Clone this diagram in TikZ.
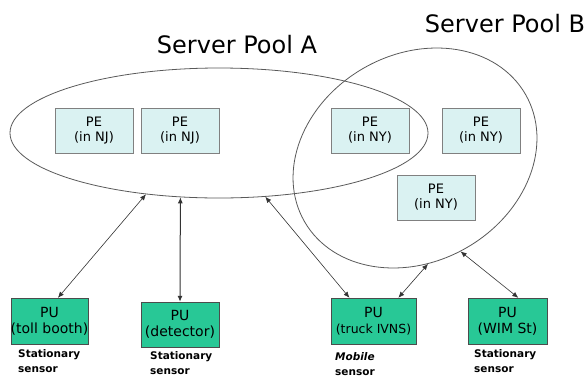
\documentclass[tikz,border=0pt]{standalone}
\usepackage{fontspec}
\setmainfont{DejaVu Sans}
\usetikzlibrary{shapes.geometric,arrows.meta}
\begin{document}
\begin{tikzpicture}[x=1pt,y=-1pt,
  pool/.style={ellipse,draw=black!65,line width=0.8pt,inner sep=0pt},
  pebox/.style={draw=black!50,fill={rgb,255:red,218;green,242;blue,242},minimum width=78pt,minimum height=45pt,inner sep=0pt,align=center,font=\fontsize{13}{15}\selectfont},
  pubox/.style={draw=black!70,fill={rgb,255:red,40;green,200;blue,150},minimum height=46pt,inner sep=0pt,align=center,font=\fontsize{14}{16}\selectfont},
  sensor/.style={anchor=north west,align=left,inner sep=0pt,font=\fontsize{10.5}{15}\selectfont\bfseries},
  link/.style={<->,>={Latex[length=6pt,width=5pt]},line width=0.6pt,draw=black!80},
  title/.style={font=\fontsize{24}{28}\selectfont,inner sep=0pt,anchor=base}]
\useasboundingbox (0,0) rectangle (588,378);

\node[title] (tA) at (237,53) {Server Pool A};
\node[title] (tB) at (505,32) {Server Pool B};

\node[pool,minimum width=418pt,minimum height=130pt] (poolA) at (219,133) {};
\node[pool,minimum width=255pt,minimum height=207pt,rotate=30] (poolB) at (415,158) {};

\node[pebox] (pe1) at (94,130.5) {PE\\(in NJ)};
\node[pebox] (pe2) at (180,130.5) {PE\\(in NJ)};
\node[pebox] (pe3) at (370,130.5) {PE\\(in NY)};
\node[pebox] (pe4) at (481,130.5) {PE\\(in NY)};
\node[pebox] (pe5) at (436,197.5) {PE\\(in NY)};

\node[pubox,minimum width=77pt] (pu1) at (49.5,321) {PU\\(toll booth)};
\node[pubox,minimum width=78pt,minimum height=45pt] (pu2) at (180,324.5) {PU\\(detector)};
\node[pubox,minimum width=85pt,font=\fontsize{14}{16}\selectfont] (pu3) at (373.5,321) {PU\\{\fontsize{12.5}{16}\selectfont(truck IVNS)}};
\node[pubox,minimum width=79pt] (pu4) at (507.5,321) {PU\\(WIM St)};

\node[sensor] (s1) at (18,349) {Stationary\\sensor};
\node[sensor] (s2) at (150,351) {Stationary\\sensor};
\node[sensor] (s3) at (335,352) {\itshape Mobile\\sensor};
\node[sensor] (s4) at (474,349) {Stationary\\sensor};

\draw[link] (pu1.70) -- (poolA.220);
\draw[link,line width=1pt] (pu2.north) -- (poolA.239);
\draw[link] (pu3.136) -- (poolA.306);
\draw[link] (pu3.43) -- (poolB.247);
\draw[link] (pu4.65) -- (poolB.266);
\end{tikzpicture}
\end{document}
